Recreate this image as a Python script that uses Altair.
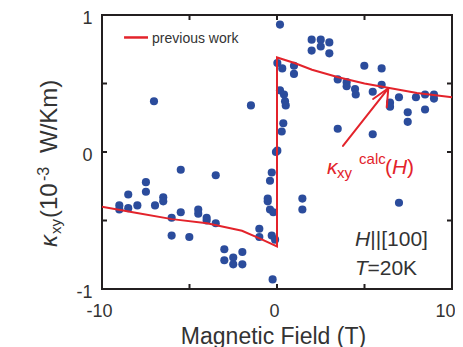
import altair as alt
import pandas as pd

# ---------------- data ----------------
field_T = [-9.01, -9.01, -8.5, -8.5, -7.98, -7.49, -7.49, -7.03, -6.97, -6.5, -6.5,
           -6.02, -6.02, -5.5, -5.5, -5.01, -4.5, -4.5, -4.02, -4.02, -3.5, -3.5,
           -3.01, -3.01, -2.5, -2.5, -1.98, -1.98, -1.49, -1.01, -1.01, -0.53, -0.53,
           -0.4, -0.4, -0.3, -0.3, -0.25, -0.21, -0.11, -0.06,
           0.02, 0.02, 0.17, 0.17, 0.27, 0.30, 0.36, 0.4, 0.46, 0.5, 0.97, 0.97,
           1.45, 1.45, 1.98, 1.98, 2.5, 2.5, 2.99, 2.99, 3.47, 3.47, 3.98, 3.98,
           4.46, 4.5, 4.99, 5.47, 5.47, 5.98, 5.98, 6.46, 6.46, 6.97, 6.97,
           7.47, 7.47, 7.94, 8.46, 8.46, 8.97, 8.97]
kxy = [-0.39, -0.42, -0.31, -0.41, -0.39, -0.22, -0.29, 0.37, -0.39, -0.33, -0.36,
       -0.48, -0.61, -0.13, -0.44, -0.62, -0.42, -0.45, -0.48, -0.50, -0.17, -0.52,
       -0.71, -0.79, -0.77, -0.82, -0.73, -0.82, 0.34, -0.56, -0.62, -0.34, -0.36,
       -0.21, -0.42, -0.15, -0.61, -0.93, -0.44, -0.64, 0.00,
       0.01, 0.65, 0.93, 0.45, 0.15, 0.61, 0.21, 0.42, 0.37, 0.34, 0.63, 0.57,
       -0.34, -0.42, 0.82, 0.74, 0.82, 0.77, 0.80, 0.72, 0.53, 0.17, 0.51, 0.48,
       0.46, 0.42, 0.63, 0.44, 0.13, 0.61, 0.49, 0.36, 0.33, 0.40, -0.37,
       0.29, 0.22, 0.40, 0.42, 0.31, 0.42, 0.39]

curve_H = [-10, -8, -6, -4, -2, -1, 0, 0, 1, 2, 3.5, 5, 6.5, 8, 10]
curve_k = [-0.40, -0.445, -0.49, -0.52, -0.575, -0.63, -0.69,
           0.69, 0.65, 0.60, 0.545, 0.50, 0.465, 0.43, 0.40]

x_tick_labels = [-10, 0, 10]
y_tick_labels = [-1, 0, 1]
x_minor = [-5, 0, 5]
y_minor = [-0.5, 0, 0.5]

# arrow (shaft + two head wings), in data units
arrow_x1 = [3.77, 6.36, 6.36]
arrow_y1 = [0.044, 0.465, 0.465]
arrow_x2 = [6.36, 5.49, 6.27]
arrow_y2 = [0.465, 0.387, 0.326]

# legend sample line
legend_x = [-8.74]
legend_x2 = [-7.37]
legend_y = [0.836]

# ---------------- style ----------------
W, H = 350, 274
FONT = "Liberation Sans"
RED = "#e3232b"
BLUE = "#2b4c9c"
FRAME = "#231f20"
TXT = "#333333"

xs = alt.Scale(domain=[-10, 10], nice=False, zero=False)
ys = alt.Scale(domain=[-1, 1], nice=False, zero=False)
minus_expr = "datum.value < 0 ? '-' + abs(datum.value) : '' + datum.value"

xaxis = alt.Axis(values=x_tick_labels, ticks=False, tickSize=0, domain=False, grid=False,
                 labelFont=FONT, labelFontSize=18, labelColor=TXT, labelPadding=13,
                 labelFlush=False,
                 labelOffset={"condition": {"test": "datum.value == 10", "value": -7},
                              "value": -3},
                 labelExpr=minus_expr, titleFont=FONT, titleFontSize=23, titleX=171,
                 titleFontWeight="normal", titleColor=TXT, titlePadding=5)
yaxis = alt.Axis(values=y_tick_labels, ticks=False, tickSize=0, domain=False, grid=False,
                 labelFont=FONT, labelFontSize=18, labelColor=TXT, labelPadding=10,
                 labelFlush=False, labelOffset=3,
                 labelExpr=minus_expr)


def X(f):
    return alt.X(f"{f}:Q", scale=xs, axis=xaxis, title="Magnetic Field (T)")


def Y(f):
    return alt.Y(f"{f}:Q", scale=ys, axis=yaxis, title=None)


pts = pd.DataFrame({"H": field_T, "k": kxy})
points = alt.Chart(pts).mark_circle(size=66, color=BLUE, opacity=1).encode(x=X("H"), y=Y("k"))

curve_df = pd.DataFrame({"H": curve_H, "k": curve_k, "i": list(range(len(curve_H)))})
curve = alt.Chart(curve_df).mark_line(color=RED, strokeWidth=2).encode(
    x=X("H"), y=Y("k"), order="i:Q")

arrow_df = pd.DataFrame({"x1": arrow_x1, "y1": arrow_y1, "x2": arrow_x2, "y2": arrow_y2})
arrow = alt.Chart(arrow_df).mark_rule(color=RED, strokeWidth=2, strokeCap="round").encode(
    x=X("x1"), y=Y("y1"), x2="x2:Q", y2="y2:Q")

leg_df = pd.DataFrame({"x1": legend_x, "x2": legend_x2, "y": legend_y})
leg_line = alt.Chart(leg_df).mark_rule(color=RED, strokeWidth=2.5).encode(
    x=X("x1"), x2="x2:Q", y=Y("y"))


# text annotations (data coordinates)
def label(texts, xv, yv, size, color, style="normal", align="left"):
    df = pd.DataFrame({"tx": xv, "ty": yv, "s": texts})
    return alt.Chart(df).mark_text(font=FONT, fontSize=size, color=color, fontStyle=style,
                                   align=align, baseline="alphabetic").encode(
        x=X("tx"), y=Y("ty"), text="s:N")


leg_text = label(["previous work"], [-7.14], [0.796], 14, TXT)
kap = label(["κ"], [2.857], [-0.161], 21, RED, style="italic")
kap_sub = label(["xy"], [3.43], [-0.19], 15, RED)
kap_sup = label(["calc"], [4.69], [-0.088], 15, RED)
paren = label(["(", ")"], [6.17, 7.43], [-0.161, -0.161], 21, RED)
paren_h = label(["H"], [6.57], [-0.161], 21, RED, style="italic")
cond_it = label(["H", "T"], [4.457, 4.457], [-0.686, -0.898], 21, TXT, style="italic")
cond = label(["||[100]", "=20K"], [5.33, 5.17], [-0.686, -0.898], 21, TXT)

# inward frame ticks
xt = pd.DataFrame({"t": x_minor})
yt = pd.DataFrame({"t": y_minor})
tick_b = alt.Chart(xt).mark_rule(color=FRAME, strokeWidth=2).encode(
    x=X("t"), y=alt.value(H), y2=alt.value(H - 5))
tick_t = alt.Chart(xt).mark_rule(color=FRAME, strokeWidth=2).encode(
    x=X("t"), y=alt.value(0), y2=alt.value(5))
tick_l = alt.Chart(yt).mark_rule(color=FRAME, strokeWidth=2).encode(
    y=Y("t"), x=alt.value(0), x2=alt.value(5))
tick_r = alt.Chart(yt).mark_rule(color=FRAME, strokeWidth=2).encode(
    y=Y("t"), x=alt.value(W), x2=alt.value(W - 5))


# y-axis title composed of pieces (rotated)
def ytitle(text, px, py, size, style="normal"):
    return alt.Chart(pd.DataFrame({"s": [text]})).mark_text(
        font=FONT, fontSize=size, color=TXT, angle=270, align="left", fontStyle=style,
        baseline="alphabetic").encode(x=alt.value(px), y=alt.value(py), text="s:N")


yt1 = ytitle("κ", -45, 232, 24, style="italic")
yt2 = ytitle("xy", -41, 219, 15)
yt3 = ytitle("(10", -45, 203, 24)
yt4 = ytitle("-3", -53, 166, 16)
yt5 = ytitle("W/Km)", -45, 138, 24)

chart = alt.layer(
    points, curve, arrow, leg_line, leg_text, kap, kap_sub, kap_sup, paren, paren_h,
    cond_it, cond, tick_b, tick_t, tick_l, tick_r, yt1, yt2, yt3, yt4, yt5
).properties(
    width=W, height=H,
    autosize=alt.AutoSizeParams(type="none"),
    padding={"left": 94, "top": 7, "right": 3, "bottom": 58},
    background="white",
).configure_view(stroke=FRAME, strokeWidth=2)

chart.save("out.html", embed_options={"renderer": "svg", "actions": False})
